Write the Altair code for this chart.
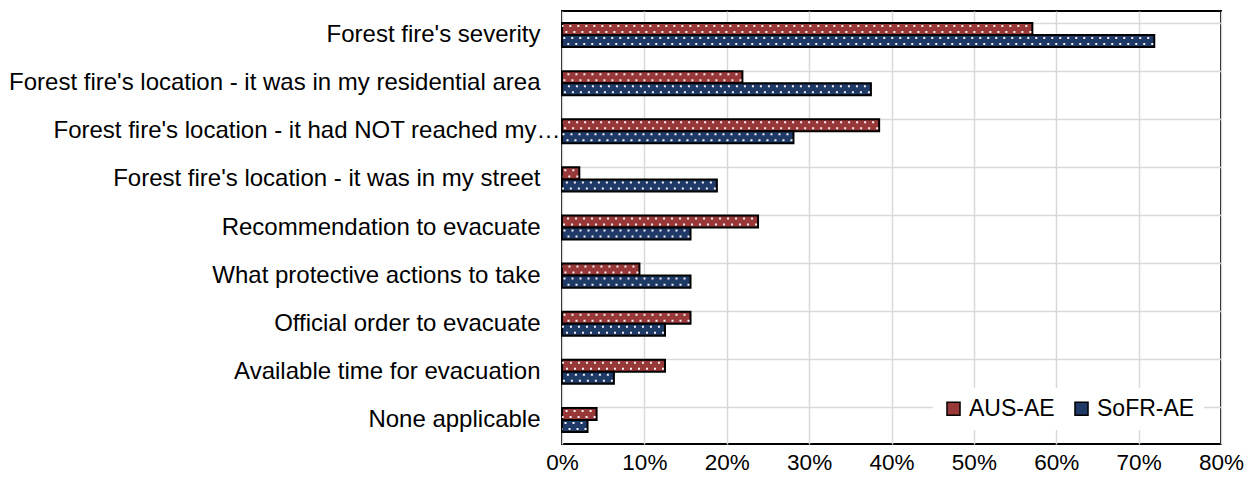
import altair as alt
import pandas as pd

# Survey answers (share of respondents, %) per reason, for the two groups
categories = [
    "Forest fire's severity",
    "Forest fire's location - it was in my residential area",
    "Forest fire's location - it had NOT reached my…",
    "Forest fire's location - it was in my street",
    "Recommendation to evacuate",
    "What protective actions to take",
    "Official order to evacuate",
    "Available time for evacuation",
    "None applicable",
]
series_names = ["AUS-AE", "SoFR-AE"]
aus_ae = [57.1, 21.9, 38.5, 2.1, 23.8, 9.4, 15.6, 12.5, 4.2]
sofr_ae = [71.9, 37.5, 28.1, 18.8, 15.6, 15.6, 12.5, 6.3, 3.1]
x_ticks = [0.0, 0.1, 0.2, 0.3, 0.4, 0.5, 0.6, 0.7, 0.8]
colors = ["#993838", "#1F3A66"]

rows = []
for cat, a, s in zip(categories, aus_ae, sofr_ae):
    rows.append({"question": cat, "group": series_names[0], "share": a / 100})
    rows.append({"question": cat, "group": series_names[1], "share": s / 100})
df = pd.DataFrame(rows)

# two rows of dots inside each bar: "a" (upper) and "b" (lower)
dot_rows = [f"{g}|{r}" for g in series_names for r in ("a", "b")]
df_a = df.assign(dot_row=df["group"] + "|a")
df_b = df.assign(dot_row=df["group"] + "|b")

FONT = "Liberation Sans"
GRID = "#D9D9D9"

y_enc = alt.Y(
    "question:N",
    sort=categories,
    scale=alt.Scale(paddingInner=0.5, paddingOuter=0.25),
    axis=alt.Axis(
        title=None, ticks=False, domain=False, labelFont=FONT, labelFontSize=24,
        labelColor="black", labelLimit=700, grid=True,
        # the shortened label sits closer to the axis
        labelPadding={"condition": {"test": "indexof(datum.value, 'NOT') >= 0", "value": 2},
                      "value": 22},
        bandPosition=0, gridColor=GRID, gridWidth=1.5,
    ),
)
x_enc = alt.X(
    "share:Q",
    scale=alt.Scale(domain=[0, 0.8], nice=False),
    axis=alt.Axis(
        values=x_ticks, format=".0%", title=None, ticks=False, domain=False,
        labelFont=FONT, labelFontSize=22.5, labelColor="black", labelPadding=7,
        labelFlush=False, grid=True, gridColor=GRID, gridWidth=1.5,
    ),
)
color_enc = alt.Color(
    "group:N",
    scale=alt.Scale(domain=series_names, range=colors),
    legend=alt.Legend(
        title=None, orient="none", legendX=371, legendY=377, direction="horizontal",
        fillColor="white", padding=9, labelFont=FONT, labelFontSize=23,
        labelColor="black", symbolType="square", symbolSize=170,
        symbolStrokeColor="black", symbolStrokeWidth=1.5, symbolOpacity=1,
        columnPadding=15, labelOffset=4,
    ),
)

bars = alt.Chart(df).mark_bar(stroke="black", strokeWidth=2, opacity=1).encode(
    y=y_enc,
    x=x_enc,
    yOffset=alt.YOffset(
        "group:N", sort=series_names,
        scale=alt.Scale(domain=series_names, paddingInner=0, paddingOuter=0),
    ),
    color=color_enc,
)


def dot_row(data, dash_offset):
    # one row of small white dots running along each bar
    return alt.Chart(data).mark_rule(
        color="white", strokeWidth=2, strokeDash=[2, 6],
        strokeDashOffset=dash_offset, strokeCap="butt", opacity=0.95,
    ).encode(
        y=y_enc,
        x=x_enc,
        x2=alt.X2(datum=0),
        yOffset=alt.YOffset(
            "dot_row:N",
            scale=alt.Scale(domain=dot_rows, paddingInner=0, paddingOuter=0),
        ),
    )


chart = (
    alt.layer(bars, dot_row(df_a, 3), dot_row(df_b, 7))
    .resolve_scale(yOffset="independent")
    .properties(
        width=659,
        height=433,
        autosize="none",
        padding={"left": 562, "top": 11, "right": 27, "bottom": 41},
        background="white",
    )
    .configure_view(stroke="black", strokeWidth=2)
)

chart.save("out.html", embed_options={"renderer": "svg", "actions": False})
